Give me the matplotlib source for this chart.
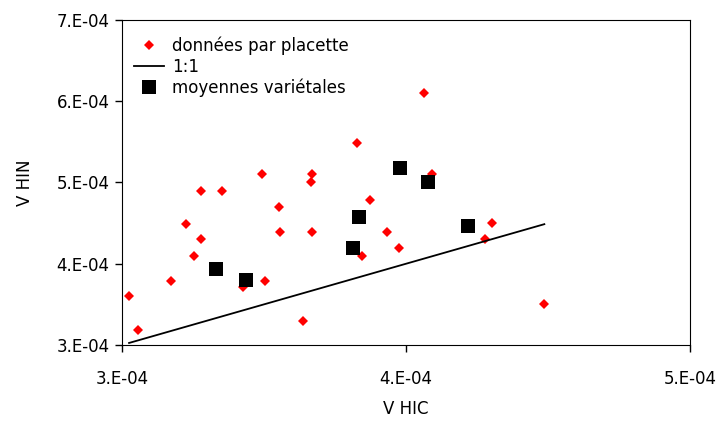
import matplotlib.pyplot as plt
from matplotlib.ticker import FuncFormatter, MultipleLocator
import numpy as np

# donnees par placette (V HIC, V HIN), en 1e-4
hic_plac = [3.025, 3.055, 3.173, 3.226, 3.252, 3.277, 3.277, 3.351, 3.427,
            3.494, 3.505, 3.552, 3.556, 3.638, 3.664, 3.670, 3.670, 3.829,
            3.844, 3.874, 3.932, 3.976, 4.064, 4.090, 4.277, 4.302, 4.487]
hin_plac = [3.60, 3.19, 3.79, 4.49, 4.10, 4.30, 4.90, 4.90, 3.71,
            5.10, 3.79, 4.70, 4.39, 3.30, 5.00, 5.10, 4.39, 5.49,
            4.10, 4.78, 4.39, 4.19, 6.10, 5.10, 4.31, 4.50, 3.50]

# moyennes varietales
hic_moy = [3.332, 3.436, 3.812, 3.833, 3.979, 4.076, 4.217]
hin_moy = [3.93, 3.80, 4.19, 4.58, 5.18, 5.01, 4.47]

x_plac = np.array(hic_plac) * 1e-4
y_plac = np.array(hin_plac) * 1e-4
x_moy = np.array(hic_moy) * 1e-4
y_moy = np.array(hin_moy) * 1e-4

fig = plt.figure(figsize=(7.2, 4.3), dpi=100)
ax = fig.add_axes([0.1694, 0.1977, 0.789, 0.7558])

ax.plot(x_plac, y_plac, 'D', color='#ff0000', ms=4.8, mew=0, label='données par placette')
x11 = np.array([x_plac.min(), x_plac.max()])
ax.plot(x11, x11, 'k-', lw=1.3, label='1:1')
ax.plot(x_moy, y_moy, 's', color='black', ms=10, mew=0, label='moyennes variétales')

ax.set_xlim(3e-4, 5e-4)
ax.set_ylim(3e-4, 7e-4)
ax.xaxis.set_major_locator(MultipleLocator(1e-4))
ax.yaxis.set_major_locator(MultipleLocator(1e-4))
fmt = FuncFormatter(lambda v, p: '%d.E-04' % round(v * 1e4))
ax.xaxis.set_major_formatter(fmt)
ax.yaxis.set_major_formatter(fmt)
ax.tick_params(direction='out', length=5, width=1, labelsize=12)
ax.tick_params(axis='x', pad=13)
ax.tick_params(axis='y', pad=4)

ax.set_xlabel('V HIC', fontsize=12, labelpad=9)
ax.set_ylabel('V HIN', fontsize=12, labelpad=16)

ax.legend(loc='upper left', bbox_to_anchor=(0.0, 0.985), frameon=False, fontsize=12,
          handlelength=1.8, handletextpad=0.5, labelspacing=0.15, borderaxespad=0.3)

fig.savefig('out.png', dpi=100)
